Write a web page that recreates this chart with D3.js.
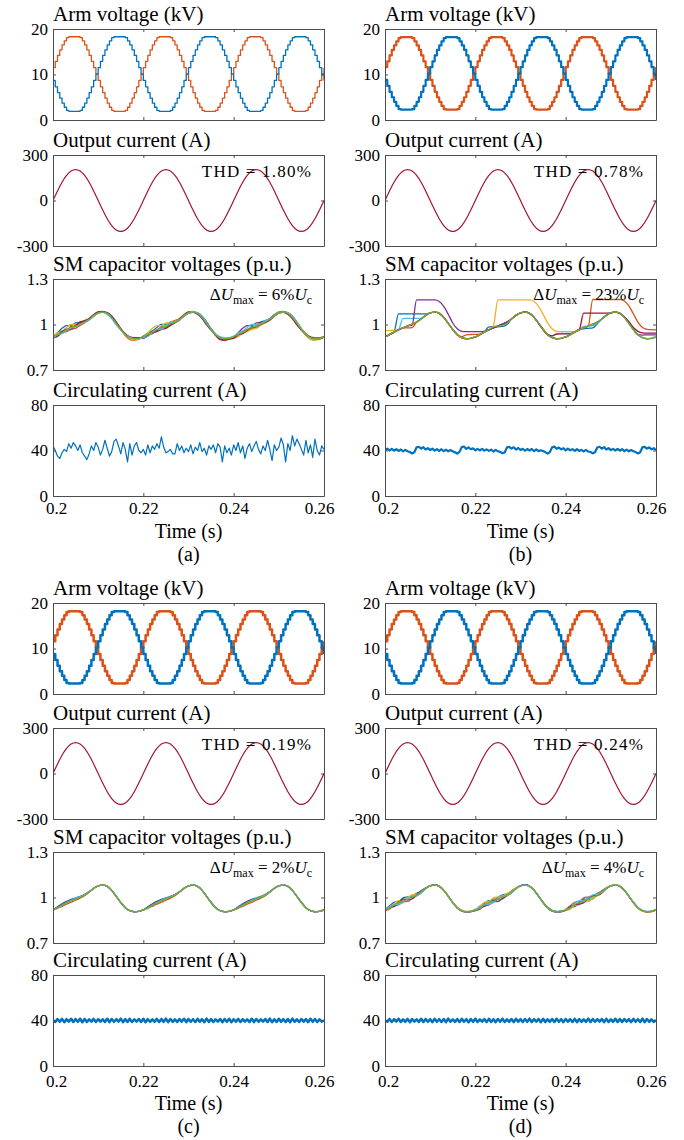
<!DOCTYPE html>
<html>
<head>
<meta charset="UTF-8" />
<title>MMC waveforms</title>
<script src="https://cdn.jsdelivr.net/npm/d3@7"></script>
<style>
body {
	margin: 0;
	background: #fff;
}
svg text {
	font-family: "Liberation Serif", "Times New Roman", serif;
	fill: #000;
}
</style>
</head>
<body>
<div id="chart"></div>
<script>
// ---- data ----
var timeTicks = [0.2, 0.22, 0.24, 0.26];
var armTicks = [0, 10, 20];
var outTicks = [-300, 0, 300];
var capTicks = [0.7, 1, 1.3];
var circTicks = [0, 40, 80];

// arm voltages (kV), one sample per 0.5 ms from t = 0.2 s
var armA_upper = [8.7,7.3,6.0,4.8,3.7,2.8,2.1,1.9,1.9,1.9,1.9,1.9,2.1,2.8,3.7,4.8,6.0,7.3,8.7,10.1,11.5,12.9,14.2,15.4,16.5,17.4,18.1,18.3,18.3,18.3,18.3,18.3,18.1,17.4,16.5,15.4,14.2,12.9,11.5,
  10.1,8.7,7.3,6.0,4.8,3.7,2.8,2.1,1.9,1.9,1.9,1.9,1.9,2.1,2.8,3.7,4.8,6.0,7.3,8.7,10.1,11.5,12.9,14.2,15.4,16.5,17.4,18.1,18.3,18.3,18.3,18.3,18.3,18.1,17.4,16.5,15.4,14.2,12.9,11.5,
  10.1,8.7,7.3,6.0,4.8,3.7,2.8,2.1,1.9,1.9,1.9,1.9,1.9,2.1,2.8,3.7,4.8,6.0,7.3,8.7,10.1,11.5,12.9,14.2,15.4,16.5,17.4,18.1,18.3,18.3,18.3,18.3,18.3,18.1,17.4,16.5,15.4,14.2,12.9,11.5,
  10.1,8.7];
var armA_lower = [11.5,12.9,14.2,15.4,16.5,17.4,18.1,18.3,18.3,18.3,18.3,18.3,18.1,17.4,16.5,15.4,14.2,12.9,11.5,10.1,8.7,7.3,6.0,4.8,3.7,2.8,2.1,1.9,1.9,1.9,1.9,1.9,2.1,2.8,3.7,4.8,6.0,7.3,8.7,
  10.1,11.5,12.9,14.2,15.4,16.5,17.4,18.1,18.3,18.3,18.3,18.3,18.3,18.1,17.4,16.5,15.4,14.2,12.9,11.5,10.1,8.7,7.3,6.0,4.8,3.7,2.8,2.1,1.9,1.9,1.9,1.9,1.9,2.1,2.8,3.7,4.8,6.0,7.3,8.7,
  10.1,11.5,12.9,14.2,15.4,16.5,17.4,18.1,18.3,18.3,18.3,18.3,18.3,18.1,17.4,16.5,15.4,14.2,12.9,11.5,10.1,8.7,7.3,6.0,4.8,3.7,2.8,2.1,1.9,1.9,1.9,1.9,1.9,2.1,2.8,3.7,4.8,6.0,7.3,8.7,
  10.1,11.5];
var armFine_upper = [8.8,7.5,6.2,5.0,4.0,3.1,2.4,2.3,2.3,2.3,2.3,2.3,2.4,3.1,4.0,5.0,6.2,7.5,8.8,10.2,11.6,12.9,14.2,15.4,16.4,17.3,18.0,18.2,18.2,18.2,18.2,18.2,18.0,17.3,16.4,15.4,14.2,12.9,11.6,
  10.2,8.8,7.5,6.2,5.0,4.0,3.1,2.4,2.3,2.3,2.3,2.3,2.3,2.4,3.1,4.0,5.0,6.2,7.5,8.8,10.2,11.6,12.9,14.2,15.4,16.4,17.3,18.0,18.2,18.2,18.2,18.2,18.2,18.0,17.3,16.4,15.4,14.2,12.9,11.6,
  10.2,8.8,7.5,6.2,5.0,4.0,3.1,2.4,2.3,2.3,2.3,2.3,2.3,2.4,3.1,4.0,5.0,6.2,7.5,8.8,10.2,11.6,12.9,14.2,15.4,16.4,17.3,18.0,18.2,18.2,18.2,18.2,18.2,18.0,17.3,16.4,15.4,14.2,12.9,11.6,
  10.2,8.8];
var armFine_lower = [11.6,12.9,14.2,15.4,16.4,17.3,18.0,18.2,18.2,18.2,18.2,18.2,18.0,17.3,16.4,15.4,14.2,12.9,11.6,10.2,8.8,7.5,6.2,5.0,4.0,3.1,2.4,2.3,2.3,2.3,2.3,2.3,2.4,3.1,4.0,5.0,6.2,7.5,8.8,
  10.2,11.6,12.9,14.2,15.4,16.4,17.3,18.0,18.2,18.2,18.2,18.2,18.2,18.0,17.3,16.4,15.4,14.2,12.9,11.6,10.2,8.8,7.5,6.2,5.0,4.0,3.1,2.4,2.3,2.3,2.3,2.3,2.3,2.4,3.1,4.0,5.0,6.2,7.5,8.8,
  10.2,11.6,12.9,14.2,15.4,16.4,17.3,18.0,18.2,18.2,18.2,18.2,18.2,18.0,17.3,16.4,15.4,14.2,12.9,11.6,10.2,8.8,7.5,6.2,5.0,4.0,3.1,2.4,2.3,2.3,2.3,2.3,2.3,2.4,3.1,4.0,5.0,6.2,7.5,8.8,
  10.2,11.6];

// output current (A), one sample per 1 ms
var outCurrent = [0,63,120,165,194,204,194,165,120,63,0,-63,-120,-165,-194,-204,-194,-165,-120,-63,
  0,63,120,165,194,204,194,165,120,63,0,-63,-120,-165,-194,-204,-194,-165,-120,-63,
  0,63,120,165,194,204,194,165,120,63,0,-63,-120,-165,-194,-204,-194,-165,-120,-63,
  0];

// SM capacitor voltages: common ripple (0.001 p.u.), one sample per 1 ms
var capBase = [918,933,950,965,978,990,1002,1016,1036,1060,1077,1082,1073,1047,1008,967,933,913,906,909,
  918,933,950,965,978,990,1002,1016,1036,1060,1077,1082,1073,1047,1008,967,933,913,906,909,
  918,933,950,965,978,990,1002,1016,1036,1060,1077,1082,1073,1047,1008,967,933,913,906,909,
  918];

// each cell's offset from the common ripple (0.001 p.u.)
var capA_blue = [0,12,25,28,15,20,12,5,2,0,0,0,-3,-5,-5,-2,0,0,0,0, 5,10,8,15,22,10,5,8,2,-5,-3,0,3,8,10,6,2,-5,-8,0, 0,-4,5,-6,8,-2,15,10,4,6,6,4,0,3,6,4,3,3,4,2, 0];
var capA_orange = [-10,-8,-5,-12,-10,-15,-8,-4,0,3,4,0,0,4,6,3,-6,-12,-10,-6, 0,-4,5,-6,8,-2,15,10,4,6,6,4,0,3,6,4,3,3,4,2, -5,-12,-2,5,-8,5,10,2,-4,-6,0,2,6,10,8,4,6,6,8,5, 0];
var capA_yellow = [5,10,8,15,22,10,5,8,2,-5,-3,0,3,8,10,6,2,-5,-8,0, 0,12,25,28,15,20,12,5,2,0,0,0,-3,-5,-5,-2,0,0,0,0, -10,-8,-5,-12,-10,-15,-8,-4,0,3,4,0,0,4,6,3,-6,-12,-10,-6, 0];
var capA_purple = [-5,-12,-2,5,-8,5,10,2,-4,-6,0,2,6,10,8,4,6,6,8,5, -8,0,-10,-4,2,-6,0,-4,-8,-6,-2,-2,-6,-8,-10,-4,0,2,0,-4, 0,12,25,28,15,20,12,5,2,0,0,0,-3,-5,-5,-2,0,0,0,0, 0];
var capA_darkred = [0,-4,5,-6,8,-2,15,10,4,6,6,4,0,3,6,4,3,3,4,2, -10,-8,-5,-12,-10,-15,-8,-4,0,3,4,0,0,4,6,3,-6,-12,-10,-6, -8,0,-10,-4,2,-6,0,-4,-8,-6,-2,-2,-6,-8,-10,-4,0,2,0,-4, 0];
var capA_cyan = [-8,0,-10,-4,2,-6,0,-4,-8,-6,-2,-2,-6,-8,-10,-4,0,2,0,-4, -5,-12,-2,5,-8,5,10,2,-4,-6,0,2,6,10,8,4,6,6,8,5, 5,10,8,15,22,10,5,8,2,-5,-3,0,3,8,10,6,2,-5,-8,0, 0];
var capA_green = [0,2,-3,0,4,-2,2,0,-2,0,0,0,0,0,0,0,0,0,0,0, 0,2,-3,0,4,-2,2,0,-2,0,0,0,0,0,0,0,0,0,0,0, 0,2,-3,0,4,-2,2,0,-2,0,0,0,0,0,0,0,0,0,0,0, 0];

var capB_blue = [0,0,0,105,92,80,68,54,34,10,0,0,0,0,0,0,0,0,0,0, 0,0,0,20,7,-5,-15,-16,0,0,0,0,0,0,0,0,0,0,0,0, 0,0,0,5,-6,-15,-24,-11,0,0,0,0,0,0,0,0,0,0,0,0, 0];
var capB_orange = [0,0,0,0,0,-12,-22,0,0,0,0,0,0,0,0,0,0,7,26,25, 17,3,0,0,0,0,0,0,0,0,0,0,0,0,0,0,0,0,0,0, 0,0,0,0,0,0,163,149,129,105,88,83,92,108,114,103,82,67,62,57, 47];
var capB_yellow = [42,27,12,3,0,0,0,0,0,0,0,0,0,0,0,0,0,0,0,0, 0,0,0,0,12,172,160,146,126,102,85,80,89,105,112,101,77,59,49,44, 35,20,5,0,0,0,0,0,0,0,0,0,0,0,0,0,0,0,0,0, 0];
var capB_purple = [0,0,0,0,0,0,-7,146,126,102,85,80,79,73,60,43,39,42,47,44, 35,20,5,0,0,0,0,0,0,0,0,0,0,0,0,0,0,0,0,0, 0,0,0,0,0,0,0,0,0,0,0,0,0,0,0,0,0,17,26,23, 14];
var capB_cyan = [0,0,0,0,62,50,38,24,4,0,0,0,0,0,0,0,0,0,0,0, 0,0,0,0,0,0,0,0,0,0,0,0,0,0,0,0,0,12,34,33, 24,9,0,0,10,0,-10,-6,0,0,0,0,0,0,0,0,0,0,0,0, 0];
var capB_darkred = [0,0,0,0,0,0,0,0,0,0,0,0,0,0,0,0,0,0,0,0, 0,0,0,0,0,0,0,0,0,0,0,0,0,0,0,0,0,12,30,29, 20,5,0,0,97,85,73,59,39,15,0,0,0,5,10,13,22,32,37,34, 25];
var capB_green = [0,0,0,0,0,0,0,0,0,0,0,0,0,0,0,0,0,0,0,0, 0,0,0,0,7,0,-7,-8,0,0,0,0,0,0,0,0,0,0,0,0, 0,0,0,0,0,0,0,0,0,0,0,0,0,0,0,0,0,0,0,0, 0];

var capC_blue = [0,6,9,10,10,8,6,4,2,1,0,0,0,0,0,0,0,0,0,0, 0,6,9,10,10,8,6,4,2,1,0,0,0,0,0,0,0,0,0,0, 0,6,9,10,10,8,6,4,2,1,0,0,0,0,0,0,0,0,0,0, 0];
var capC_orange = [0,-5,-8,-9,-9,-8,-6,-4,-2,0,0,0,0,0,0,0,0,0,0,0, 0,-5,-8,-9,-9,-8,-6,-4,-2,0,0,0,0,0,0,0,0,0,0,0, 0,-5,-8,-9,-9,-8,-6,-4,-2,0,0,0,0,0,0,0,0,0,0,0, 0];
var capC_purple = [0,3,4,6,4,2,1,3,1,0,0,0,0,0,0,0,0,0,0,0, 0,3,4,6,4,2,1,3,1,0,0,0,0,0,0,0,0,0,0,0, 0,3,4,6,4,2,1,3,1,0,0,0,0,0,0,0,0,0,0,0, 0];
var capC_cyan = [0,-2,-3,2,4,5,3,1,0,0,0,0,0,0,0,0,0,0,0,0, 0,-2,-3,2,4,5,3,1,0,0,0,0,0,0,0,0,0,0,0,0, 0,-2,-3,2,4,5,3,1,0,0,0,0,0,0,0,0,0,0,0,0, 0];
var capC_green = null;

var capD_blue = [2,12,18,8,20,14,6,12,5,2,0,0,0,0,0,0,0,0,0,0, 3,-2,10,15,2,10,16,6,-2,2,1,0,0,0,0,2,2,3,3,3, -3,4,-10,-2,12,-6,-12,2,8,2,2,1,1,0,0,-1,-2,-2,-2,-2, 0];
var capD_orange = [-4,-10,-4,-14,-6,-16,-8,-4,-6,-2,0,2,3,3,2,0,-2,-3,-3,-3, -3,4,-10,-2,12,-6,-12,2,8,2,2,1,1,0,0,-1,-2,-2,-2,-2, 2,12,18,8,20,14,6,12,5,2,0,0,0,0,0,0,0,0,0,0, 0];
var capD_yellow = [3,-2,10,15,2,10,16,6,-2,2,1,0,0,0,0,2,2,3,3,3, 2,12,18,8,20,14,6,12,5,2,0,0,0,0,0,0,0,0,0,0, -4,-10,-4,-14,-6,-16,-8,-4,-6,-2,0,2,3,3,2,0,-2,-3,-3,-3, 0];
var capD_purple = [-3,4,-10,-2,12,-6,-12,2,8,2,2,1,1,0,0,-1,-2,-2,-2,-2, -4,-10,-4,-14,-6,-16,-8,-4,-6,-2,0,2,3,3,2,0,-2,-3,-3,-3, 0,8,2,-8,-12,4,10,-2,-6,-3,-1,0,0,0,0,0,0,0,0,0, 0];
var capD_cyan = [0,8,2,-8,-12,4,10,-2,-6,-3,-1,0,0,0,0,0,0,0,0,0, 0,8,2,-8,-12,4,10,-2,-6,-3,-1,0,0,0,0,0,0,0,0,0, 3,-2,10,15,2,10,16,6,-2,2,1,0,0,0,0,2,2,3,3,3, 0];
var capD_green = [0,-4,4,2,-4,-2,2,-2,2,0,0,0,0,0,0,0,0,0,0,0, 0,-4,4,2,-4,-2,2,-2,2,0,0,0,0,0,0,0,0,0,0,0, 0,-4,4,2,-4,-2,2,-2,2,0,0,0,0,0,0,0,0,0,0,0, 0];

// circulating current (A), one sample per 0.5 ms
var circA = [44,40,35,33,38,41,39,46,42,47, 44,40,45,38,35,32,37,44,40,47, 43,36,41,49,42,35,39,48,50,44,
  37,47,41,30,46,36,44,47,40,38, 41,36,45,38,44,41,46,42,52,43, 38,39,41,37,37,46,40,44,38,42,
  39,45,37,43,40,47,39,42,36,44, 41,45,38,46,43,30,44,38,42,36, 45,40,47,38,44,33,42,46,39,44,
  48,41,37,44,40,49,41,31,45,40, 43,51,45,30,46,40,53,44,50,46, 41,36,49,38,45,34,50,40,36,44, 41];
var circB = [40.5,41.6,40.0,41.4,39.8,41.2,39.6,40.9,39.2,40.5,39.4,38.7,37.4,38.4,42.8,43.3,41.6,42.9,40.9,42.1,
  40.4,41.7,39.9,41.2,39.7,41.1,39.5,40.7,39.3,40.4,39.2,38.5,37.2,38.8,43.0,43.5,41.4,42.7,41.1,41.9,
  40.2,41.4,40.1,41.5,39.9,41.0,39.7,40.8,39.1,40.6,39.3,38.8,37.6,38.3,42.7,43.2,41.7,42.8,40.8,42.2,
  40.5,41.5,39.8,41.3,40.0,41.3,39.4,41.0,39.4,40.3,39.5,38.6,37.3,38.6,42.9,43.4,41.5,42.6,41.0,42.0,
  40.1,41.6,40.2,41.2,39.6,41.1,39.6,40.6,39.2,40.5,39.1,38.7,37.5,38.5,42.6,43.3,41.6,43.0,40.9,42.1,
  40.3,41.4,40.0,41.4,39.8,41.2,39.5,40.8,39.3,40.4,39.4,38.6,37.4,38.4,42.8,43.2,41.7,42.7,41.0,42.0,
  40.4];
var circC = [40.1,38.8,41.2,38.9,41.4,38.6,41.1,39.0,41.5,38.7, 41.2,38.9,41.6,38.5,41.3,38.8,41.0,39.0,41.4,38.7,
  41.1,39.1,41.0,38.7,41.5,38.6,41.3,38.9,41.1,39.0, 41.6,38.6,41.2,38.8,41.4,38.7,41.0,39.1,41.3,38.7,
  41.5,38.5,41.1,38.9,41.0,38.9,41.4,38.7,41.2,38.8, 41.6,38.6,41.3,38.9,41.0,38.7,41.3,39.1,41.5,38.6,
  41.2,38.9,41.1,38.7,41.4,39.0,41.1,38.6,41.6,38.8, 41.3,38.7,41.0,39.1,41.3,38.6,41.2,38.9,41.5,38.5,
  41.1,38.9,41.4,38.7,41.1,39.0,41.0,38.7,41.5,38.6, 41.3,38.9,41.0,39.1,41.3,38.7,41.6,38.6,41.1,38.8,
  41.4,39.0,41.1,38.7,41.2,38.6,41.6,38.9,41.0,38.7, 41.3,39.1,41.1,38.6,41.5,38.9,41.3,38.7,41.0,39.0, 40.1];
var circD = [40.2,38.9,41.3,38.7,41.1,39.0,41.5,38.7,41.0,38.9, 41.4,38.6,41.2,39.1,41.0,38.8,41.5,38.7,41.3,38.9,
  41.1,38.6,41.4,38.9,41.1,38.7,41.3,38.6,41.6,39.0, 41.0,38.8,41.3,38.7,41.4,38.9,41.1,38.5,41.3,38.9,
  41.5,38.7,41.0,39.0,41.2,38.7,41.4,38.8,41.1,38.6, 41.3,38.9,41.6,38.7,41.0,38.9,41.3,38.6,41.4,39.0,
  41.1,38.7,41.3,38.9,41.6,38.7,41.1,39.1,41.2,38.6, 41.4,38.8,41.0,38.9,41.3,38.7,41.5,38.9,41.1,38.6,
  41.3,39.0,41.1,38.7,41.4,38.6,41.2,38.9,41.0,38.8, 41.6,38.7,41.3,38.9,41.1,39.1,41.3,38.6,41.4,38.7,
  41.0,38.9,41.5,38.8,41.2,38.7,41.3,39.0,41.1,38.6, 41.4,38.9,41.1,38.7,41.6,38.6,41.3,38.9,41.0,38.8, 40.3];

// ---- drawing ----
var C = {
	blue: '#0072BD', orange: '#D95319', yellow: '#EDB120', purple: '#7E2F8E',
	green: '#77AC30', cyan: '#4DBEEE', darkred: '#A2142F'
};
var W = 684, H = 1140;
var plotW = 271, plotH = 91;
var colX = [53, 385];
var rowTops = [[29, 155, 279, 405], [603, 728, 852, 975]];
var tickGap = [6, 9];      // x tick label padding per half
var timeGap = [42, 44];    // "Time (s)" baseline below last plot
var letterGap = [65, 67];  // "(a)" baseline below last plot

var tHalf = d3.range(121).map(function(j) { return 0.2 + j * 0.0005; });
var tMs = d3.range(61).map(function(k) { return 0.2 + k * 0.001; });

function pts(t, vals) {
	return vals.map(function(v, i) { return {t: t[i], v: v}; });
}
function cells(list) {
	return list.map(function(c) {
		return {
			color: c[0],
			values: capBase.map(function(b, k) {
				return {t: tMs[k], v: (b + (c[1] ? c[1][k] : 0)) / 1000};
			})
		};
	});
}

var panels = [
	{letter: '(a)', col: 0, half: 0, armUp: armA_upper, armLow: armA_lower, armW: 1.3,
	 thd: '1.80%', du: '6%', circ: circA, circW: 1.2,
	 cap: cells([[C.blue, capA_blue], [C.orange, capA_orange], [C.yellow, capA_yellow], [C.purple, capA_purple],
	             [C.darkred, capA_darkred], [C.cyan, capA_cyan], [C.green, capA_green]])},
	{letter: '(b)', col: 1, half: 0, armUp: armFine_upper, armLow: armFine_lower, armW: 2.2,
	 thd: '0.78%', du: '23%', circ: circB, circW: 2.2,
	 cap: cells([[C.blue, capB_blue], [C.orange, capB_orange], [C.yellow, capB_yellow], [C.cyan, capB_cyan],
	             [C.darkred, capB_darkred], [C.purple, capB_purple], [C.green, capB_green]])},
	{letter: '(c)', col: 0, half: 1, armUp: armFine_upper, armLow: armFine_lower, armW: 2.5,
	 thd: '0.19%', du: '2%', circ: circC, circW: 2.6,
	 cap: cells([[C.blue, capC_blue], [C.orange, capC_orange], [C.purple, capC_purple], [C.cyan, capC_cyan],
	             [C.green, capC_green]])},
	{letter: '(d)', col: 1, half: 1, armUp: armFine_upper, armLow: armFine_lower, armW: 2.5,
	 thd: '0.24%', du: '4%', circ: circD, circW: 2.6,
	 cap: cells([[C.blue, capD_blue], [C.orange, capD_orange], [C.yellow, capD_yellow], [C.purple, capD_purple],
	             [C.cyan, capD_cyan], [C.green, capD_green]])}
];

var svg = d3.select('#chart').append('svg')
	.attr('width', W)
	.attr('height', H)
	.attr('viewBox', '0 0 ' + W + ' ' + H);

var fontFam = '"Liberation Serif", "Times New Roman", serif';
var clipId = 0;

function subplot(x0, y0, yDomain, yTicks, title, xLabels, gap) {
	var x = d3.scaleLinear().domain([0.2, 0.26]).range([x0, x0 + plotW]);
	var y = d3.scaleLinear().domain(yDomain).range([y0 + plotH, y0]);
	var id = 'clip' + (clipId++);
	svg.append('clipPath').attr('id', id)
		.append('rect').attr('x', x0).attr('y', y0).attr('width', plotW).attr('height', plotH);
	var data = svg.append('g').attr('clip-path', 'url(#' + id + ')');

	svg.append('text')
		.attr('x', x0)
		.attr('y', y0 - 8)
		.attr('font-size', 21)
		.text(title);

	return {x: x, y: y, g: data, draw: function() {
		var axes = svg.append('g');
		function style(sel, showText) {
			sel.attr('font-family', fontFam).attr('font-size', 17);
			sel.select('.domain').attr('stroke', '#4d4d4d').attr('stroke-width', 1);
			sel.selectAll('.tick line').attr('stroke', '#4d4d4d');
			sel.selectAll('.tick text').attr('fill', '#000');
			if (!showText) sel.selectAll('.tick text').remove();
		}
		var bx = axes.append('g').attr('transform', 'translate(0,' + (y0 + plotH) + ')')
			.call(d3.axisBottom(x).tickValues(timeTicks).tickSize(-3).tickSizeOuter(0).tickPadding(gap)
				.tickFormat(function(d) { return String(+d.toFixed(2)); }))
			.call(style, xLabels);
		// edge labels sit a little inside the axis ends, as in the figure
		bx.selectAll('.tick text').attr('dx', function(d, i) {
			return i === 0 ? 3 : (i === timeTicks.length - 1 ? -5 : 0);
		});
		axes.append('g').attr('transform', 'translate(0,' + y0 + ')')
			.call(d3.axisTop(x).tickValues(timeTicks).tickSize(-3).tickSizeOuter(0))
			.call(style, false);
		axes.append('g').attr('transform', 'translate(' + x0 + ',0)')
			.call(d3.axisLeft(y).tickValues(yTicks).tickSize(-3).tickSizeOuter(0).tickPadding(5)
				.tickFormat(function(d) { return String(d); }))
			.call(style, true);
		axes.append('g').attr('transform', 'translate(' + (x0 + plotW) + ',0)')
			.call(d3.axisRight(y).tickValues(yTicks).tickSize(-3).tickSizeOuter(0))
			.call(style, false);
	}};
}

function line(p, curve) {
	return d3.line()
		.x(function(d) { return p.x(d.t); })
		.y(function(d) { return p.y(d.v); })
		.curve(curve || d3.curveLinear);
}

panels.forEach(function(pn) {
	var x0 = colX[pn.col];
	var tops = rowTops[pn.half];
	var cx = x0 + plotW / 2;

	// arm voltage
	var p1 = subplot(x0, tops[0], [0, 20], armTicks, 'Arm voltage (kV)', false, 0);
	[[pn.armLow, C.orange], [pn.armUp, C.blue]].forEach(function(s) {
		p1.g.append('path')
			.datum(pts(tHalf, s[0]))
			.attr('fill', 'none')
			.attr('stroke', s[1])
			.attr('stroke-width', pn.armW)
			.attr('stroke-linejoin', 'round')
			.attr('d', line(p1, d3.curveStepAfter));
	});
	p1.draw();

	// output current
	var p2 = subplot(x0, tops[1], [-300, 300], outTicks, 'Output current (A)', false, 0);
	p2.g.append('path')
		.datum(pts(tMs, outCurrent))
		.attr('fill', 'none')
		.attr('stroke', C.darkred)
		.attr('stroke-width', 1.2)
		.attr('d', line(p2, d3.curveNatural));
	p2.draw();
	svg.append('text')
		.attr('x', x0 + plotW - 12)
		.attr('y', tops[1] + 22)
		.attr('text-anchor', 'end')
		.attr('font-size', 17)
		.attr('letter-spacing', 1.2)
		.text('THD = ' + pn.thd);

	// SM capacitor voltages
	var p3 = subplot(x0, tops[2], [0.7, 1.3], capTicks, 'SM capacitor voltages (p.u.)', false, 0);
	p3.g.selectAll('path.cell')
		.data(pn.cap)
		.enter().append('path')
		.attr('class', 'cell')
		.attr('fill', 'none')
		.attr('stroke', function(d) { return d.color; })
		.attr('stroke-width', 1.3)
		.attr('d', function(d) { return line(p3, d3.curveMonotoneX)(d.values); });
	p3.draw();
	var du = svg.append('text')
		.attr('x', x0 + plotW - 12)
		.attr('y', tops[2] + 21)
		.attr('text-anchor', 'end')
		.attr('font-size', 17);
	du.append('tspan').text('\u0394');
	du.append('tspan').attr('font-style', 'italic').text('U');
	du.append('tspan').attr('font-size', 12).attr('dy', 4).text('max');
	du.append('tspan').attr('dy', -4).text(' = ' + pn.du);
	du.append('tspan').attr('font-style', 'italic').text('U');
	du.append('tspan').attr('font-size', 12).attr('dy', 4).text('c');

	// circulating current
	var p4 = subplot(x0, tops[3], [0, 80], circTicks, 'Circulating current (A)', true, tickGap[pn.half]);
	p4.g.append('path')
		.datum(pts(tHalf, pn.circ))
		.attr('fill', 'none')
		.attr('stroke', C.blue)
		.attr('stroke-width', pn.circW)
		.attr('stroke-linejoin', 'round')
		.attr('d', line(p4));
	p4.draw();

	var bottom = tops[3] + plotH;
	svg.append('text')
		.attr('x', cx)
		.attr('y', bottom + timeGap[pn.half])
		.attr('text-anchor', 'middle')
		.attr('font-size', 20)
		.text('Time (s)');
	svg.append('text')
		.attr('x', cx)
		.attr('y', bottom + letterGap[pn.half])
		.attr('text-anchor', 'middle')
		.attr('font-size', 20)
		.text(pn.letter);
});
</script>
</body>
</html>
